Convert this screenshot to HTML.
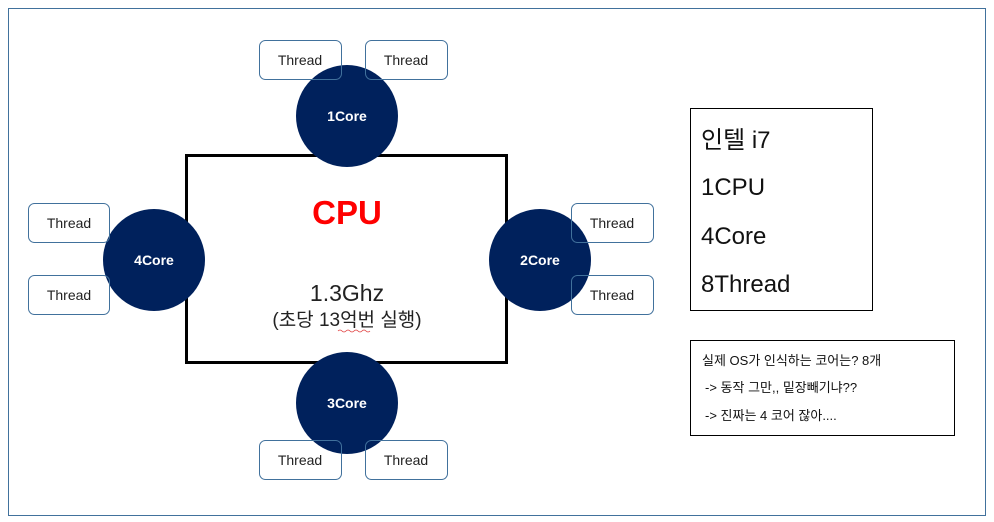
<!DOCTYPE html>
<html><head><meta charset="utf-8"><style>
html,body{margin:0;padding:0;background:#fff;width:994px;height:522px;overflow:hidden}
svg text{font-family:"Liberation Sans","Noto Sans CJK KR",sans-serif}
</style></head><body>
<svg width="994" height="522" viewBox="0 0 994 522" xmlns="http://www.w3.org/2000/svg">
<rect x="8.5" y="8.5" width="977" height="507" fill="none" stroke="#41719c" stroke-width="1"/>
<rect x="186.5" y="155.5" width="320" height="207" fill="#fff" stroke="#000" stroke-width="3"/>
<text x="347" y="224" font-size="33" font-weight="bold" fill="#ff0000" text-anchor="middle">CPU</text>
<text x="347" y="301" font-size="23" fill="#222" text-anchor="middle">1.3Ghz</text>
<text x="347" y="326" font-size="19" fill="#222" text-anchor="middle">(초당 13억번 실행)</text>
<path d="M338 331 q2 -2 4 0 t4 0 t4 0 t4 0 t4 0 t4 0 t4 0 t4 0" fill="none" stroke="#e04040" stroke-width="0.8"/>
<g fill="#00215c">
<circle cx="347" cy="116" r="51"/>
<circle cx="154" cy="260" r="51"/>
<circle cx="540" cy="260" r="51"/>
<circle cx="347" cy="403" r="51"/>
</g>
<g fill="#fff" font-size="14" font-weight="bold" text-anchor="middle">
<text x="347" y="121">1Core</text>
<text x="154" y="265">4Core</text>
<text x="540" y="265">2Core</text>
<text x="347" y="408">3Core</text>
</g>
<g fill="none" stroke="#41719c" stroke-width="1">
<rect x="259.5" y="40.5" width="82" height="39" rx="6"/>
<rect x="365.5" y="40.5" width="82" height="39" rx="6"/>
<rect x="28.5" y="203.5" width="81" height="39" rx="6"/>
<rect x="28.5" y="275.5" width="81" height="39" rx="6"/>
<rect x="571.5" y="203.5" width="82" height="39" rx="6"/>
<rect x="571.5" y="275.5" width="82" height="39" rx="6"/>
<rect x="259.5" y="440.5" width="82" height="39" rx="6"/>
<rect x="365.5" y="440.5" width="82" height="39" rx="6"/>
</g>
<g fill="#222" font-size="14" text-anchor="middle">
<text x="300" y="65">Thread</text>
<text x="406" y="65">Thread</text>
<text x="69" y="228">Thread</text>
<text x="69" y="300">Thread</text>
<text x="612" y="228">Thread</text>
<text x="612" y="300">Thread</text>
<text x="300" y="465">Thread</text>
<text x="406" y="465">Thread</text>
</g>
<rect x="690.5" y="108.5" width="182" height="202" fill="none" stroke="#000" stroke-width="1"/>
<g fill="#111" font-size="24">
<text x="701" y="148">인텔 i7</text>
<text x="701" y="195">1CPU</text>
<text x="701" y="244">4Core</text>
<text x="701" y="292">8Thread</text>
</g>
<rect x="690.5" y="340.5" width="264" height="95" fill="none" stroke="#000" stroke-width="1"/>
<g fill="#111" font-size="13">
<text x="702" y="365">실제 OS가 인식하는 코어는? 8개</text>
<text x="705" y="392">-&gt; 동작 그만,, 밑장빼기냐??</text>
<text x="705" y="420">-&gt; 진짜는 4 코어 잖아....</text>
</g>
</svg>
</body></html>
